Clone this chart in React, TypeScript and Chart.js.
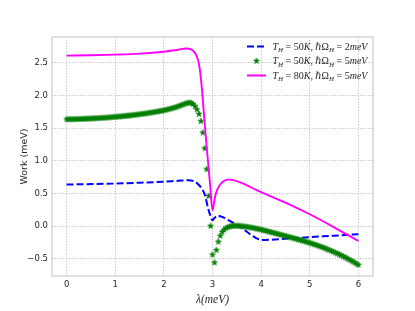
import React, { useEffect, useRef } from "react";
import { Chart, registerables } from "chart.js";
Chart.register(...registerables);

// ---------- data ----------
const X_TICKS = [0, 1, 2, 3, 4, 5, 6];
const Y_TICKS = [-0.5, 0, 0.5, 1, 1.5, 2, 2.5];

const LEGEND_LABELS = [
  "T_H=50K,ℏΩ_H=2meV",
  "T_H=50K,ℏΩ_H=5meV",
  "T_H=80K,ℏΩ_H=5meV",
];

const BLUE_X = [0, 0.5, 1, 1.5, 2, 2.3, 2.5, 2.6, 2.7, 2.8, 2.85, 2.9, 2.95, 3.0, 3.05, 3.1, 3.2, 3.3, 3.4, 3.5, 3.6, 3.7, 3.8, 3.9, 4.0, 4.5, 5.0, 5.5, 6.0];
const BLUE_Y = [0.635, 0.642, 0.65, 0.663, 0.68, 0.693, 0.70, 0.69, 0.645, 0.55, 0.46, 0.30, 0.17, 0.09, 0.13, 0.16, 0.14, 0.10, 0.06, 0.02, -0.03, -0.085, -0.14, -0.185, -0.215, -0.195, -0.17, -0.148, -0.125];

const MAGENTA_X = [0, 0.5, 1, 1.5, 2, 2.3, 2.45, 2.55, 2.62, 2.68, 2.72, 2.76, 2.8, 2.85, 2.9, 2.95, 3.0, 3.05, 3.1, 3.16, 3.25, 3.33, 3.45, 3.6, 3.8, 4.0, 4.5, 5.0, 5.5, 6.0];
const MAGENTA_Y = [2.61, 2.615, 2.625, 2.64, 2.67, 2.70, 2.72, 2.71, 2.67, 2.59, 2.49, 2.27, 1.95, 1.47, 1.05, 0.64, 0.24, 0.44, 0.56, 0.64, 0.695, 0.71, 0.70, 0.66, 0.59, 0.52, 0.36, 0.18, -0.02, -0.23];

const GREEN_X = [
  0.00, 0.04, 0.08, 0.12, 0.16, 0.20, 0.24, 0.28, 0.32, 0.36,
  0.40, 0.44, 0.48, 0.52, 0.56, 0.60, 0.64, 0.68, 0.72, 0.76,
  0.80, 0.84, 0.88, 0.92, 0.96, 1.00, 1.04, 1.08, 1.12, 1.16,
  1.20, 1.24, 1.28, 1.32, 1.36, 1.40, 1.44, 1.48, 1.52, 1.56,
  1.60, 1.64, 1.68, 1.72, 1.76, 1.80, 1.84, 1.88, 1.92, 1.96,
  2.00, 2.04, 2.08, 2.12, 2.16, 2.20, 2.24, 2.28, 2.32, 2.36,
  2.40, 2.44, 2.48, 2.52, 2.56, 2.60, 2.64, 2.68, 2.72, 2.76,
  2.80, 2.84, 2.88, 2.92, 2.96, 3.00, 3.04, 3.08, 3.12, 3.16,
  3.20, 3.24, 3.28, 3.32, 3.36, 3.40, 3.44, 3.48, 3.52, 3.56,
  3.60, 3.64, 3.68, 3.72, 3.76, 3.80, 3.84, 3.88, 3.92, 3.96,
  4.00, 4.04, 4.08, 4.12, 4.16, 4.20, 4.24, 4.28, 4.32, 4.36,
  4.40, 4.44, 4.48, 4.52, 4.56, 4.60, 4.64, 4.68, 4.72, 4.76,
  4.80, 4.84, 4.88, 4.92, 4.96, 5.00, 5.04, 5.08, 5.12, 5.16,
  5.20, 5.24, 5.28, 5.32, 5.36, 5.40, 5.44, 5.48, 5.52, 5.56,
  5.60, 5.64, 5.68, 5.72, 5.76, 5.80, 5.84, 5.88, 5.92, 5.96,
  6.00,
];
const GREEN_Y = [
  1.635, 1.635, 1.636, 1.636, 1.637, 1.638, 1.639, 1.640, 1.641, 1.642,
  1.643, 1.644, 1.646, 1.647, 1.649, 1.650, 1.652, 1.654, 1.656, 1.658,
  1.660, 1.662, 1.664, 1.667, 1.669, 1.672, 1.675, 1.677, 1.680, 1.683,
  1.686, 1.689, 1.692, 1.695, 1.699, 1.702, 1.706, 1.710, 1.714, 1.718,
  1.722, 1.726, 1.731, 1.735, 1.740, 1.745, 1.750, 1.755, 1.761, 1.766,
  1.772, 1.779, 1.786, 1.794, 1.802, 1.810, 1.819, 1.829, 1.840, 1.851,
  1.862, 1.874, 1.884, 1.889, 1.885, 1.868, 1.835, 1.785, 1.715, 1.605,
  1.430, 1.190, 0.870, 0.460, 0.000, -0.440, -0.560, -0.370, -0.240, -0.150,
  -0.090, -0.055, -0.032, -0.016, -0.006, 0.000, 0.003, 0.004, 0.003, 0.001,
  -0.002, -0.006, -0.010, -0.014, -0.019, -0.024, -0.030, -0.036, -0.042, -0.049,
  -0.056, -0.063, -0.070, -0.078, -0.085, -0.093, -0.101, -0.109, -0.117, -0.125,
  -0.133, -0.141, -0.149, -0.157, -0.165, -0.173, -0.181, -0.189, -0.197, -0.205,
  -0.214, -0.222, -0.231, -0.240, -0.249, -0.258, -0.268, -0.278, -0.288, -0.298,
  -0.309, -0.320, -0.331, -0.343, -0.355, -0.367, -0.380, -0.393, -0.406, -0.420,
  -0.434, -0.448, -0.463, -0.478, -0.494, -0.510, -0.526, -0.543, -0.560, -0.578,
  -0.596,
];

const X_MIN = -0.3, X_MAX = 6.3, Y_MIN = -0.7655, Y_MAX = 2.895;

const BLUE = "#0000ff";
const GREEN = "#008000";
const MAGENTA = "#ff00ff";
const TEXT = "#262626";
const GRID = "#b8b8b8";
const FRAME = "#cccccc";

function pts(xs: number[], ys: number[]) {
  return xs.map((x, i) => ({ x, y: ys[i] }));
}

function makeStar(color: string, outer: number) {
  const size = 10;
  const c = document.createElement("canvas");
  c.width = size;
  c.height = size;
  const ctx = c.getContext("2d")!;
  const cx = size / 2, cy = size / 2;
  const inner = outer * 0.381966;
  ctx.beginPath();
  for (let i = 0; i < 10; i++) {
    const r = i % 2 === 0 ? outer : inner;
    const a = -Math.PI / 2 + (i * Math.PI) / 5;
    const px = cx + r * Math.cos(a), py = cy + r * Math.sin(a);
    if (i === 0) ctx.moveTo(px, py);
    else ctx.lineTo(px, py);
  }
  ctx.closePath();
  ctx.fillStyle = color;
  ctx.fill();
  ctx.lineWidth = 0.7;
  ctx.strokeStyle = color;
  ctx.stroke();
  return c;
}

// draw a mathtext-like label: '_' makes next char a subscript
function drawMath(ctx: CanvasRenderingContext2D, text: string, x: number, yMid: number, size: number) {
  const base = yMid + size * 0.33;
  let cx = x;
  const chars = Array.from(text);
  for (let i = 0; i < chars.length; i++) {
    let ch = chars[i];
    let sub = false;
    if (ch === "_") { sub = true; i++; ch = chars[i]; }
    const italic = /[A-Za-zℏλ]/.test(ch);
    const fs = sub ? size * 0.7 : size;
    ctx.font = `${italic ? "italic " : ""}${fs}px "Liberation Serif", "DejaVu Serif", serif`;
    let pre = 0, post = 0;
    if (ch === "=") { pre = size * 0.25; post = size * 0.25; }
    if (ch === ",") { post = size * 0.22; }
    cx += pre;
    ctx.fillText(ch, cx, sub ? base + size * 0.22 : base);
    cx += ctx.measureText(ch).width + post;
  }
}

export default function App() {
  const ref = useRef<HTMLCanvasElement>(null);
  useEffect(() => {
    const canvas = ref.current!;
    const star = makeStar(GREEN, 3.1);

    const framePlugin = {
      id: "frame",
      afterDatasetsDraw(chart: any) {
        const { ctx, chartArea: a } = chart;
        ctx.save();
        ctx.strokeStyle = FRAME;
        ctx.lineWidth = 1.2;
        ctx.strokeRect(a.left, a.top, a.right - a.left, a.bottom - a.top);
        ctx.restore();
      },
    };

    const legendPlugin = {
      id: "mathLegend",
      afterDraw(chart: any) {
        const ctx: CanvasRenderingContext2D = chart.ctx;
        const rows = [46.5, 61, 75.5];
        const hx0 = 247, hx1 = 266, tx = 272.5;
        ctx.save();
        // blue dashed handle
        ctx.strokeStyle = BLUE;
        ctx.lineWidth = 2;
        ctx.setLineDash([7, 3]);
        ctx.beginPath();
        ctx.moveTo(hx0, rows[0]);
        ctx.lineTo(hx1, rows[0]);
        ctx.stroke();
        ctx.setLineDash([]);
        // star handle
        ctx.drawImage(star, (hx0 + hx1) / 2 - star.width / 2, rows[1] - star.height / 2);
        // magenta handle
        ctx.strokeStyle = MAGENTA;
        ctx.beginPath();
        ctx.moveTo(hx0, rows[2]);
        ctx.lineTo(hx1, rows[2]);
        ctx.stroke();
        ctx.fillStyle = TEXT;
        ctx.textBaseline = "alphabetic";
        ctx.textAlign = "left";
        LEGEND_LABELS.forEach((t, i) => drawMath(ctx, t, tx, rows[i], 10));
        ctx.restore();
      },
    };

    const chart = new Chart(canvas, {
      type: "line",
      data: {
        datasets: [
          {
            label: LEGEND_LABELS[2],
            data: pts(MAGENTA_X, MAGENTA_Y),
            borderColor: MAGENTA,
            borderWidth: 1.9,
            pointRadius: 0,
            cubicInterpolationMode: "monotone",
            fill: false,
            order: 0,
          },
          {
            label: LEGEND_LABELS[1],
            data: pts(GREEN_X, GREEN_Y),
            showLine: false,
            pointStyle: star as any,
            pointRadius: 3,
            borderColor: GREEN,
            backgroundColor: GREEN,
            order: 1,
          },
          {
            label: LEGEND_LABELS[0],
            data: pts(BLUE_X, BLUE_Y),
            borderColor: BLUE,
            borderWidth: 2,
            borderDash: [7, 3],
            pointRadius: 0,
            cubicInterpolationMode: "monotone",
            fill: false,
            order: 2,
          },
        ],
      } as any,
      options: {
        animation: false,
        responsive: false,
        devicePixelRatio: 1,
        layout: { padding: { left: 0, top: 37, right: 42, bottom: 0 } },
        plugins: { legend: { display: false }, tooltip: { enabled: false } },
        scales: {
          x: {
            type: "linear",
            min: X_MIN,
            max: X_MAX,
            afterFit(scale: any) { scale.height = 35; },
            afterBuildTicks(scale: any) { scale.ticks = X_TICKS.map((v) => ({ value: v })); },
            grid: { color: GRID, lineWidth: 0.9, drawTicks: false },
            border: { display: false, dash: [1.2, 1.6] },
            ticks: {
              padding: 4,
              color: TEXT,
              font: { family: '"DejaVu Sans", sans-serif', size: 8.5 },
              maxRotation: 0,
              autoSkip: false,
              callback: (v: any) => String(v),
            },
            title: {
              display: true,
              text: "λ(meV)",
              color: TEXT,
              font: { family: '"Liberation Serif", "DejaVu Serif", serif', style: "italic", size: 11.5 },
              padding: { top: 0, bottom: 4 },
            },
          },
          y: {
            type: "linear",
            min: Y_MIN,
            max: Y_MAX,
            afterFit(scale: any) { scale.width = 52; },
            afterBuildTicks(scale: any) { scale.ticks = Y_TICKS.map((v) => ({ value: v })); },
            grid: { color: GRID, lineWidth: 0.9, drawTicks: false },
            border: { display: false, dash: [1.2, 1.6] },
            ticks: {
              padding: 4,
              color: TEXT,
              font: { family: '"DejaVu Sans", sans-serif', size: 8.5 },
              autoSkip: false,
              callback: (v: any) => Number(v).toFixed(1).replace("-", "\u2212"),
            },
            title: {
              display: true,
              text: "Work (meV)",
              color: TEXT,
              font: { family: '"DejaVu Sans", sans-serif', size: 9.5 },
              padding: { top: 19, bottom: 0 },
            },
          },
        },
      } as any,
      plugins: [framePlugin, legendPlugin],
    });
    return () => chart.destroy();
  }, []);

  return (
    <div style={{ position: "fixed", left: 0, top: 0, width: 415, height: 311, background: "#fff" }}>
      <canvas ref={ref} width={415} height={311} style={{ width: 415, height: 311, display: "block" }} />
    </div>
  );
}
